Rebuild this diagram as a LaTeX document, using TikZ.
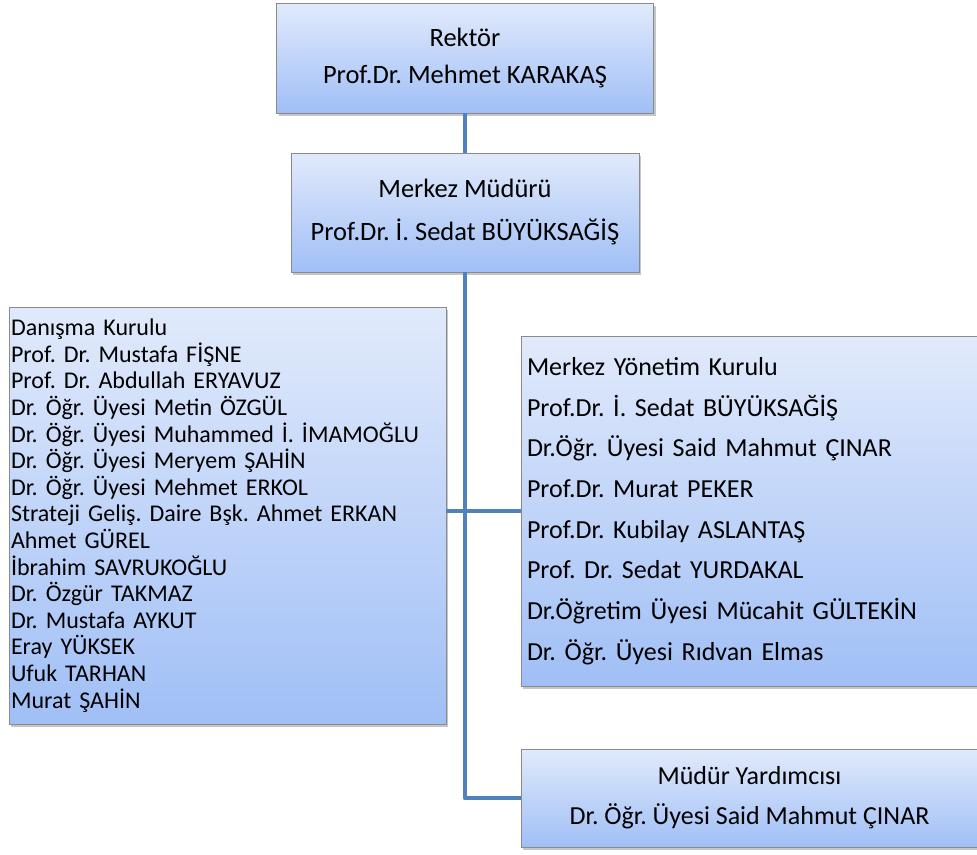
\documentclass[tikz,border=0pt]{standalone}
\usepackage{fontspec}
\setmainfont{Carlito}
\usepackage{xcolor}
\usetikzlibrary{shadows,positioning}
\definecolor{LinkBlue}{HTML}{4F81BD}
\definecolor{BoxTop}{HTML}{E1EAFB}
\definecolor{BoxBottom}{HTML}{A0BFF6}
\definecolor{BoxEdge}{HTML}{8A8A8A}
\tikzset{
  unit/.style={draw=BoxEdge, line width=0.8pt, top color=BoxTop, bottom color=BoxBottom,
    drop shadow={shadow xshift=2pt, shadow yshift=-2.5pt, opacity=0.45}, inner sep=0pt},
  link/.style={draw=LinkBlue, line width=4.5pt, line join=round}
}

\begin{document}
\frenchspacing
\begin{tikzpicture}[x=1pt,y=-1pt]
    \useasboundingbox (0,0) rectangle (977,854);

    \node[unit, minimum width=377pt, minimum height=110pt, align=center,
      font=\fontsize{26.5}{37}\selectfont\frenchspacing] (rektor) at (465,58)
      {Rektör\\Prof.Dr. Mehmet KARAKAŞ};
    \node[unit, minimum width=348pt, minimum height=119pt, align=center,
      font=\fontsize{26.5}{43}\selectfont\frenchspacing] (mudur) at (465,212.5)
      {Merkez Müdürü\\Prof.Dr. İ. Sedat BÜYÜKSAĞİŞ};
    \node[unit, inner xsep=2pt, text width=433pt, minimum height=417pt, align=left,
      font=\fontsize{24}{26.6}\selectfont\frenchspacing] (danisma) at (227.5,515.5)
      {Danışma Kurulu\\
       Prof. Dr. Mustafa FİŞNE\\
       Prof. Dr. Abdullah ERYAVUZ\\
       Dr. Öğr. Üyesi Metin ÖZGÜL\\
       Dr. Öğr. Üyesi Muhammed İ. İMAMOĞLU\\
       Dr. Öğr. Üyesi Meryem ŞAHİN\\
       Dr. Öğr. Üyesi Mehmet ERKOL\\
       Strateji Geliş. Daire Bşk. Ahmet ERKAN\\
       Ahmet GÜREL\\
       İbrahim SAVRUKOĞLU\\
       Dr. Özgür TAKMAZ\\
       Dr. Mustafa AYKUT\\
       Eray YÜKSEK\\
       Ufuk TARHAN\\
       Murat ŞAHİN};
    \node[unit, inner xsep=6pt, text width=445pt, minimum height=350pt, align=left,
      font=\fontsize{26}{40.7}\selectfont\frenchspacing] (yonetim) at (749.5,511)
      {Merkez Yönetim Kurulu\\
       Prof.Dr. İ. Sedat BÜYÜKSAĞİŞ\\
       Dr.Öğr. Üyesi Said Mahmut ÇINAR\\
       Prof.Dr. Murat PEKER\\
       Prof.Dr. Kubilay ASLANTAŞ\\
       Prof. Dr. Sedat YURDAKAL\\
       Dr.Öğretim Üyesi Mücahit GÜLTEKİN\\
       Dr. Öğr. Üyesi Rıdvan Elmas};
    \node[unit, minimum width=457pt, minimum height=98pt, align=center,
      font=\fontsize{26}{40}\selectfont\frenchspacing] (yardimci) at (749.5,798)
      {Müdür Yardımcısı\\Dr. Öğr. Üyesi Said Mahmut ÇINAR};

    \draw[link] (rektor.south) -- (mudur.north);
    \draw[link] (mudur.south) |- (yardimci.west);
    \draw[link] (danisma.east |- yonetim.west) -- (yonetim.west);
\end{tikzpicture}
\end{document}
